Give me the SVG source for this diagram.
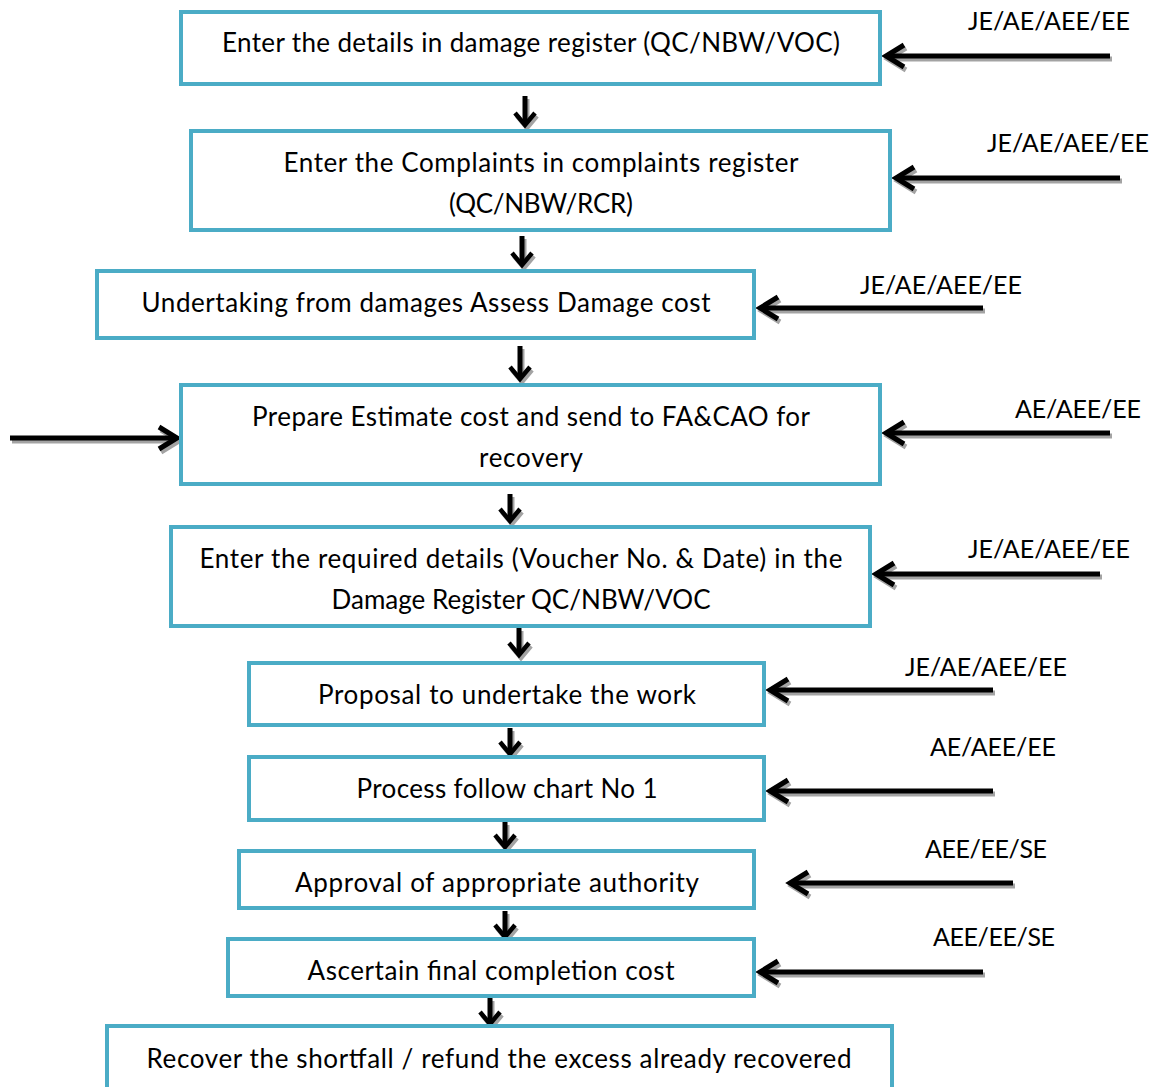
<svg xmlns="http://www.w3.org/2000/svg" width="1157" height="1087" viewBox="0 0 1157 1087">
  <style>
    .box { fill: #ffffff; stroke: #4bacc6; stroke-width: 4; }
    .txt { font-family: Lato, "Open Sans", "Liberation Sans", sans-serif; font-size: 26px; fill: #000000; text-anchor: middle; }
    .who { font-family: Lato, "Open Sans", "Liberation Sans", sans-serif; font-size: 25px; fill: #000000; }
    .ln { fill: none; stroke: #000000; stroke-width: 5; }
    .sh { fill: none; stroke: #a3a3a3; stroke-width: 5; }
    .side { marker-end: url(#head); }
    .side.sh { marker-end: url(#headSh); }
    .down { marker-end: url(#headS); }
    .down.sh { marker-end: url(#headSSh); }
  </style>
  <defs>
    <marker id="head" markerUnits="userSpaceOnUse" orient="auto" markerWidth="40" markerHeight="40" refX="0" refY="0" viewBox="-25 -20 30 40" overflow="visible">
      <path d="M -18 -11 L 0 0 L -18 11" fill="none" stroke="#000000" stroke-width="5"/>
    </marker>
    <marker id="headSh" markerUnits="userSpaceOnUse" orient="auto" markerWidth="40" markerHeight="40" refX="0" refY="0" viewBox="-25 -20 30 40" overflow="visible">
      <path d="M -18 -11 L 0 0 L -18 11" fill="none" stroke="#a3a3a3" stroke-width="5"/>
    </marker>
    <marker id="headS" markerUnits="userSpaceOnUse" orient="auto" markerWidth="40" markerHeight="40" refX="0" refY="0" viewBox="-25 -20 30 40" overflow="visible">
      <path d="M -12 -10 L 0 0 L -12 10" fill="none" stroke="#000000" stroke-width="4.5"/>
    </marker>
    <marker id="headSSh" markerUnits="userSpaceOnUse" orient="auto" markerWidth="40" markerHeight="40" refX="0" refY="0" viewBox="-25 -20 30 40" overflow="visible">
      <path d="M -12 -10 L 0 0 L -12 10" fill="none" stroke="#a3a3a3" stroke-width="4.5"/>
    </marker>
  </defs>

  <!-- connectors: shadow copies first, then black strokes -->
  <g id="connectors">
    <g transform="translate(2,3)">
      <path class="sh side" d="M 1110 56 L 886 56"/>
      <path class="sh side" d="M 1120 178 L 896 178"/>
      <path class="sh side" d="M 983 308 L 760 308"/>
      <path class="sh side" d="M 1110 433 L 886 433"/>
      <path class="sh side" d="M 10 438 L 177 438"/>
      <path class="sh side" d="M 1100 574 L 876 574"/>
      <path class="sh side" d="M 993 690 L 770 690"/>
      <path class="sh side" d="M 993 791 L 770 791"/>
      <path class="sh side" d="M 1013 883 L 790 883"/>
      <path class="sh side" d="M 983 972 L 760 972"/>
      <path class="sh down" d="M 525 96 L 525 125"/>
      <path class="sh down" d="M 522 236 L 522 265"/>
      <path class="sh down" d="M 520 346 L 520 379"/>
      <path class="sh down" d="M 510 494 L 510 521"/>
      <path class="sh down" d="M 519 628 L 519 655"/>
      <path class="sh down" d="M 510 728 L 510 754"/>
      <path class="sh down" d="M 505 822 L 505 847"/>
      <path class="sh down" d="M 505 911 L 505 937"/>
      <path class="sh down" d="M 490 998 L 490 1024"/>
    </g>
    <path class="ln side" d="M 1110 56 L 886 56"/>
    <path class="ln side" d="M 1120 178 L 896 178"/>
    <path class="ln side" d="M 983 308 L 760 308"/>
    <path class="ln side" d="M 1110 433 L 886 433"/>
    <path class="ln side" d="M 10 438 L 177 438"/>
    <path class="ln side" d="M 1100 574 L 876 574"/>
    <path class="ln side" d="M 993 690 L 770 690"/>
    <path class="ln side" d="M 993 791 L 770 791"/>
    <path class="ln side" d="M 1013 883 L 790 883"/>
    <path class="ln side" d="M 983 972 L 760 972"/>
    <path class="ln down" d="M 525 96 L 525 125"/>
    <path class="ln down" d="M 522 236 L 522 265"/>
    <path class="ln down" d="M 520 346 L 520 379"/>
    <path class="ln down" d="M 510 494 L 510 521"/>
    <path class="ln down" d="M 519 628 L 519 655"/>
    <path class="ln down" d="M 510 728 L 510 754"/>
    <path class="ln down" d="M 505 822 L 505 847"/>
    <path class="ln down" d="M 505 911 L 505 937"/>
    <path class="ln down" d="M 490 998 L 490 1024"/>
  </g>

  <!-- role labels beside the incoming arrows -->
  <g id="roles">
    <text class="who" x="968" y="30" textLength="162">JE/AE/AEE/EE</text>
    <text class="who" x="987" y="152" textLength="162">JE/AE/AEE/EE</text>
    <text class="who" x="860" y="294" textLength="162">JE/AE/AEE/EE</text>
    <text class="who" x="1015" y="418" textLength="126">AE/AEE/EE</text>
    <text class="who" x="968" y="558" textLength="162">JE/AE/AEE/EE</text>
    <text class="who" x="905" y="676" textLength="162">JE/AE/AEE/EE</text>
    <text class="who" x="930" y="756" textLength="126">AE/AEE/EE</text>
    <text class="who" x="925" y="858" textLength="122">AEE/EE/SE</text>
    <text class="who" x="933" y="946" textLength="122">AEE/EE/SE</text>
  </g>

  <g id="n1">
    <rect class="box" x="181" y="12" width="699" height="72"/>
    <text class="txt" x="531" y="52" textLength="618">Enter the details in damage register (QC/NBW/VOC)</text>
  </g>
  <g id="n2">
    <rect class="box" x="191" y="131" width="699" height="99"/>
    <text class="txt" x="541" y="172" textLength="515">Enter the Complaints in complaints register</text>
    <text class="txt" x="541" y="213" textLength="184">(QC/NBW/RCR)</text>
  </g>
  <g id="n3">
    <rect class="box" x="97" y="271" width="657" height="67"/>
    <text class="txt" x="426" y="312" textLength="569">Undertaking from damages Assess Damage cost</text>
  </g>
  <g id="n4">
    <rect class="box" x="181" y="385" width="699" height="99"/>
    <text class="txt" x="531" y="426" textLength="558">Prepare Estimate cost and send to FA&amp;CAO for</text>
    <text class="txt" x="531" y="467" textLength="104">recovery</text>
  </g>
  <g id="n5">
    <rect class="box" x="171" y="527" width="699" height="99"/>
    <text class="txt" x="521" y="568" textLength="643">Enter the required details (Voucher No. &amp; Date) in the</text>
    <text class="txt" x="521" y="609" textLength="379">Damage Register QC/NBW/VOC</text>
  </g>
  <g id="n6">
    <rect class="box" x="249" y="663" width="515" height="62"/>
    <text class="txt" x="507" y="704" textLength="378">Proposal to undertake the work</text>
  </g>
  <g id="n7">
    <rect class="box" x="249" y="757" width="515" height="63"/>
    <text class="txt" x="507" y="798" textLength="301">Process follow chart No 1</text>
  </g>
  <g id="n8">
    <rect class="box" x="239" y="851" width="515" height="57"/>
    <text class="txt" x="497" y="892" textLength="404">Approval of appropriate authority</text>
  </g>
  <g id="n9">
    <rect class="box" x="228" y="939" width="526" height="57"/>
    <text class="txt" x="491" y="980" textLength="367">Ascertain final completion cost</text>
  </g>
  <g id="n10">
    <rect class="box" x="107" y="1026" width="785" height="80"/>
    <text class="txt" x="499" y="1068" textLength="705">Recover the shortfall / refund the excess already recovered</text>
  </g>
</svg>
